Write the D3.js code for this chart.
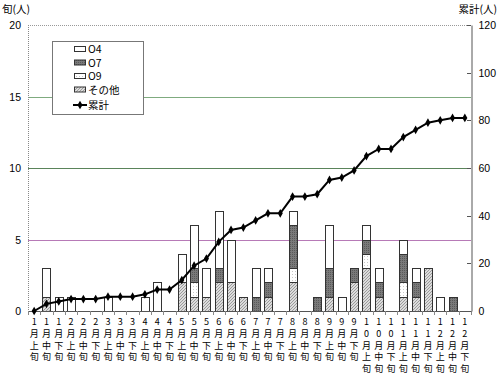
<!DOCTYPE html>
<html><head><meta charset="utf-8">
<script src="https://cdn.jsdelivr.net/npm/d3@7"></script>
<style>body{margin:0;background:#fff}svg{display:block}</style>
</head><body><svg id="c" width="500" height="379"></svg>
<script>
const categories = ["1月上旬","1月中旬","1月下旬","2月上旬","2月中旬","2月下旬","3月上旬","3月中旬","3月下旬",
  "4月上旬","4月中旬","4月下旬","5月上旬","5月中旬","5月下旬","6月上旬","6月中旬","6月下旬",
  "7月上旬","7月中旬","7月下旬","8月上旬","8月中旬","8月下旬","9月上旬","9月中旬","9月下旬",
  "10月上旬","10月中旬","10月下旬","11月上旬","11月中旬","11月下旬","12月上旬","12月中旬","12月下旬"];
const seriesO4    = [0,2,1,1,0,0,1,0,0, 1,2,0,2,3,2,4,3,0, 2,1,0,1,0,0,3,1,0, 1,1,0,1,1,0,1,0,0];
const seriesO7    = [0,0,0,0,0,0,0,0,0, 0,0,0,0,1,0,1,0,0, 1,1,0,3,0,1,2,0,1, 1,1,0,2,1,0,0,1,0];
const seriesO9    = [0,0,0,0,0,0,0,0,0, 0,0,0,0,1,0,0,0,0, 0,0,0,1,0,0,0,0,0, 1,0,0,1,0,0,0,0,0];
const seriesOther = [0,1,0,0,0,0,0,0,0, 0,0,0,2,1,1,2,2,1, 0,1,0,2,0,0,1,0,2, 3,1,0,1,1,3,0,0,0];
const cumulative  = [0,3,4,5,5,5,6,6,6, 7,9,9,13,19,22,29,34,35, 38,41,41,48,48,49,55,56,59, 65,68,68,73,76,79,80,81,81];
const leftTicks = [0,5,10,15,20];
const rightTicks = [0,20,40,60,80,100,120];
const seriesNames = {o4:"O4", o7:"O7", o9:"O9", other:"その他", cum:"累計"};

const svg = d3.select("#c");
const FONT = "'Noto Sans CJK JP','Noto Sans',sans-serif";
const X0 = 28, X1 = 471, Y0 = 311, Y1 = 25;

const defs = svg.append("defs");
const ph = defs.append("pattern").attr("id","pOther").attr("patternUnits","userSpaceOnUse").attr("width",3).attr("height",3);
ph.append("rect").attr("width",3).attr("height",3).attr("fill","#dcdcdc");
ph.append("path").attr("d","M0,3 L3,0 M-1,1 L1,-1 M2,4 L4,2").attr("stroke","#8a8a8a").attr("stroke-width",0.8);
const p7 = defs.append("pattern").attr("id","pO7").attr("patternUnits","userSpaceOnUse").attr("width",2).attr("height",2);
p7.append("rect").attr("width",2).attr("height",2).attr("fill","#7a7a7a");
p7.append("rect").attr("width",1).attr("height",1).attr("fill","#5a5a5a");
const p9 = defs.append("pattern").attr("id","pO9").attr("patternUnits","userSpaceOnUse").attr("width",3).attr("height",3);
p9.append("rect").attr("width",3).attr("height",3).attr("fill","#ffffff");
p9.append("rect").attr("x",1).attr("y",1).attr("width",1).attr("height",1).attr("fill","#c8c8c8");

const fills = {other:"url(#pOther)", o9:"url(#pO9)", o7:"url(#pO7)", o4:"#ffffff"};

const x = d3.scaleBand().domain(categories).range([X0, X1]).paddingInner(0.35).paddingOuter(0.175);
const y = d3.scaleLinear().domain([0,20]).range([Y0, Y1]);
const y2 = d3.scaleLinear().domain([0,120]).range([Y0, Y1]);

const gridColors = {5:"#b77ab7", 10:"#5a845a", 15:"#7fab7f"};
[5,10,15].forEach(v => {
  svg.append("line").attr("x1",X0).attr("x2",X1).attr("y1",Math.round(y(v))+0.5).attr("y2",Math.round(y(v))+0.5)
    .attr("stroke",gridColors[v]).attr("stroke-width",1);
});
svg.append("line").attr("x1",X0).attr("x2",X1).attr("y1",y(20)+0.5).attr("y2",y(20)+0.5)
  .attr("stroke","#999").attr("stroke-dasharray","1,1");
svg.append("line").attr("x1",X0+0.5).attr("x2",X0+0.5).attr("y1",Y1).attr("y2",Y0)
  .attr("stroke","#888").attr("stroke-dasharray","1,1");

const table = categories.map((c,i)=>({cat:c, other:seriesOther[i], o9:seriesO9[i], o7:seriesO7[i], o4:seriesO4[i]}));
const stack = d3.stack().keys(["other","o9","o7","o4"])(table);
stack.forEach(layer => {
  svg.append("g").selectAll("rect").data(layer.filter(d => d[1]-d[0] > 0)).join("rect")
    .attr("x", d => Math.round(x(d.data.cat))+0.5)
    .attr("width", Math.round(x.bandwidth()))
    .attr("y", d => Math.round(y(d[1]))+0.5)
    .attr("height", d => Math.round(y(d[0])) - Math.round(y(d[1])))
    .attr("fill", fills[layer.key])
    .attr("stroke","#333").attr("stroke-width",1);
});

const xAxis = svg.append("g").attr("transform",`translate(0,${Y0})`);
xAxis.append("line").attr("x1",X0).attr("x2",X1).attr("y1",0.5).attr("y2",0.5).attr("stroke","#555");
const step = x.step();
d3.range(categories.length+1).forEach(i=>{
  const xx = Math.round(X0 + i*step)+0.5;
  xAxis.append("line").attr("x1",xx).attr("x2",xx).attr("y1",0).attr("y2",4).attr("stroke","#888");
});
const lineH = 11.75;
categories.forEach(c => {
  const chars = Array.from(c);
  const cx = x(c) + x.bandwidth()/2;
  const t = svg.append("text").attr("x",cx).attr("y",325)
    .attr("text-anchor","middle").attr("font-family",FONT).attr("font-size",9).attr("fill","#000");
  chars.forEach((ch,k) => {
    t.append("tspan").attr("x",cx).attr("dy", k===0 ? 0 : lineH).text(ch);
  });
});

leftTicks.forEach(v=>{
  svg.append("text").attr("x",21).attr("y",y(v)+4).attr("text-anchor","end")
    .attr("font-family","'Liberation Sans',Arial,sans-serif").attr("font-size",10.5).text(v);
});
const rAxis = d3.axisRight(y2).tickValues(rightTicks).tickSize(0).tickPadding(7);
const rg = svg.append("g").attr("transform",`translate(${X1+0.5},0)`).call(rAxis);
rg.select(".domain").attr("stroke","#555");
rg.selectAll("text").attr("font-family","'Liberation Sans',Arial,sans-serif").attr("font-size",10.5).attr("fill","#000");
rightTicks.forEach(v=>{
  svg.append("line").attr("x1",X1-4).attr("x2",X1).attr("y1",Math.round(y2(v))+0.5).attr("y2",Math.round(y2(v))+0.5).attr("stroke","#555");
});

const pts = categories.map((c,i)=>[x(c)+x.bandwidth()/2, y2(cumulative[i])]);
svg.append("path").attr("d", d3.line()(pts)).attr("fill","none").attr("stroke","#000").attr("stroke-width",2);
const diamond = d3.symbol().type(d3.symbolDiamond).size(22);
svg.append("g").selectAll("path").data(pts).join("path")
  .attr("transform", d=>`translate(${d[0]},${d[1]})`).attr("d", diamond()).attr("fill","#000");

svg.append("text").attr("x",2).attr("y",13).attr("font-family",FONT).attr("font-size",10.5).text("旬(人)");
svg.append("text").attr("x",497).attr("y",13).attr("text-anchor","end").attr("font-family",FONT).attr("font-size",10.5).text("累計(人)");

const lg = svg.append("g");
lg.append("rect").attr("x",52.5).attr("y",41.5).attr("width",91).attr("height",73)
  .attr("fill","#fff").attr("stroke","#777").attr("stroke-width",1);
const legItems = [["o4",fills.o4],["o7",fills.o7],["o9",fills.o9],["other",fills.other]];
legItems.forEach((it,i)=>{
  const yy = 49 + i*13.5;
  lg.append("rect").attr("x",74.5).attr("y",yy-2.5).attr("width",11).attr("height",5)
    .attr("fill",it[1]).attr("stroke","#333").attr("stroke-width",1);
  lg.append("text").attr("x",88).attr("y",yy+4).attr("font-family",FONT).attr("font-size",10.5).text(seriesNames[it[0]]);
});
const ly = 49 + 4*13.5 + 2;
lg.append("line").attr("x1",73).attr("x2",87).attr("y1",ly).attr("y2",ly).attr("stroke","#000").attr("stroke-width",2);
lg.append("path").attr("transform",`translate(80,${ly})`).attr("d",diamond()).attr("fill","#000");
lg.append("text").attr("x",88).attr("y",ly+4).attr("font-family",FONT).attr("font-size",10.5).text(seriesNames.cum);
</script></body></html>
